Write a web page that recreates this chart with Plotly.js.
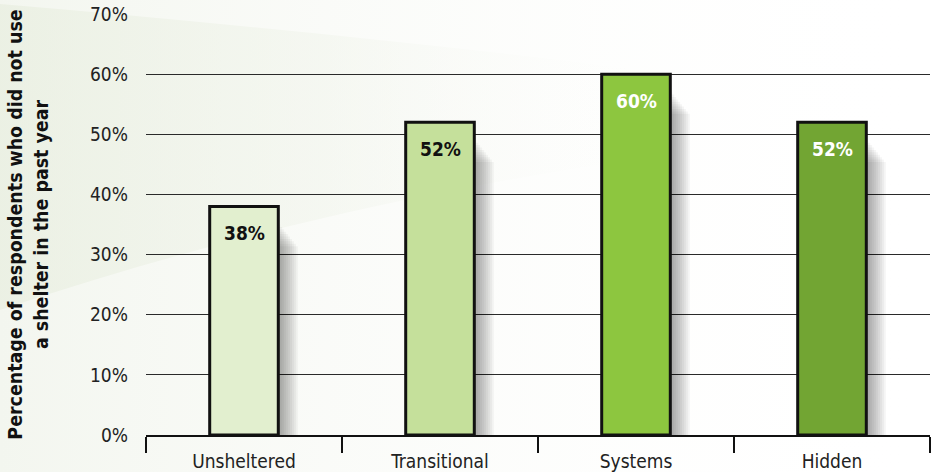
<!DOCTYPE html>
<html><head><meta charset="utf-8">
<script src="https://cdn.plot.ly/plotly-3.0.1.min.js"></script>
<style>html,body{margin:0;padding:0;background:#fff;}#chart{width:932px;height:472px;}</style>
</head><body><div id="chart"></div>
<script>
const categories = ["Unsheltered", "Transitional", "Systems", "Hidden"];
const values = [38, 52, 60, 52];
const labels = ["38%", "52%", "60%", "52%"];
const barColors = ["#e2efcf", "#c5e09b", "#8dc63f", "#72a533"];
const labelColors = ["#111111", "#111111", "#ffffff", "#ffffff"];
const yTicks = [0, 10, 20, 30, 40, 50, 60, 70];
const yTickText = ["0%", "10%", "20%", "30%", "40%", "50%", "60%", "70%"];

const FONT = "'DejaVu Sans Condensed', 'Liberation Sans Narrow', 'Roboto', sans-serif";

const traces = [];
// soft shadow layers to the right of each bar
for (let i = 0; i < 10; i++) {
  traces.push({
    type: "bar", x: categories, y: values.map(v => v - 3 - 0.4 * i),
    width: 0.35 + 0.01 * (i + 1), offset: -0.175,
    marker: {color: "rgba(0,0,0,0.04)", line: {width: 0}},
    hoverinfo: "skip", showlegend: false
  });
}
traces.push({
  type: "bar", x: categories, y: values,
  width: 0.35,
  marker: {color: barColors, line: {color: "#111111", width: 3}},
  hoverinfo: "skip", showlegend: false
});

const annotations = categories.map((c, i) => ({
  x: c, y: values[i], xref: "x", yref: "y", text: labels[i], showarrow: false,
  yanchor: "middle", yshift: -27,
  font: {family: FONT, size: 19, color: labelColors[i], weight: "bold"}
}));

const bgSvg = "data:image/svg+xml;utf8," + encodeURIComponent(
  '<svg xmlns="http://www.w3.org/2000/svg" width="932" height="472" viewBox="0 0 932 472">' +
  '<defs><linearGradient id="g" x1="0" y1="0" x2="1" y2="0">' +
  '<stop offset="0" stop-color="#e8eedf" stop-opacity="0.7"/>' +
  '<stop offset="0.35" stop-color="#eff3e9" stop-opacity="0.45"/>' +
  '<stop offset="0.75" stop-color="#ffffff" stop-opacity="0"/></linearGradient>' +
  '<linearGradient id="h" x1="0" y1="0" x2="1" y2="0">' +
  '<stop offset="0" stop-color="#f3f6ef" stop-opacity="1"/>' +
  '<stop offset="0.5" stop-color="#fafbf8" stop-opacity="0.6"/>' +
  '<stop offset="1" stop-color="#ffffff" stop-opacity="0"/></linearGradient></defs>' +
  '<rect x="0" y="0" width="932" height="472" fill="url(#h)"/>' +
  '<path d="M0,4 C300,30 600,60 932,110 L932,130 C600,150 300,210 0,310 Z" fill="url(#g)"/>' +
  '</svg>');

const layout = {
  width: 932, height: 472,
  margin: {l: 146, r: 2, t: 14, b: 37},
  paper_bgcolor: "#ffffff", plot_bgcolor: "rgba(0,0,0,0)",
  barmode: "overlay",
  font: {family: FONT, color: "#222222", size: 19},
  images: [{source: bgSvg, xref: "paper", yref: "paper", x: -146/784, y: 1 + 14/421,
            sizex: 932/784, sizey: 472/421, sizing: "stretch", layer: "below",
            xanchor: "left", yanchor: "top"}],
  annotations: annotations,
  xaxis: {
    type: "category", range: [-0.5, 3.5],
    showline: true, linecolor: "#111111", linewidth: 2,
    ticks: "outside", tickson: "boundaries", ticklen: 16, tickwidth: 2, tickcolor: "#111111",
    showgrid: false, zeroline: false, ticklabelstandoff: 8,
    tickfont: {family: FONT, size: 19, color: "#222222"}
  },
  yaxis: {
    range: [0, 70], tickvals: yTicks, ticktext: yTickText,
    showgrid: true, gridcolor: "#2a2a2a", gridwidth: 1.2,
    zeroline: false, showline: false, ticks: "", ticklabelstandoff: 17,
    tickfont: {family: FONT, size: 19, color: "#222222"},
    title: {text: "Percentage of respondents who did not use<br>a shelter in the past year",
            font: {family: FONT, size: 19.4, color: "#111111", weight: "bold"}, standoff: 36}
  },
  showlegend: false
};
Plotly.newPlot("chart", traces, layout, {displayModeBar: false, staticPlot: true});
</script></body></html>
